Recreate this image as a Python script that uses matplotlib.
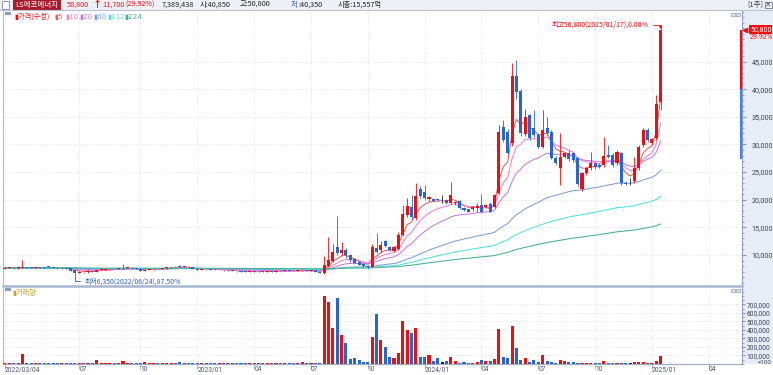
import numpy as np
import pandas as pd
import matplotlib
matplotlib.use('Agg')
import matplotlib.pyplot as plt
import matplotlib.transforms as mtransforms
from matplotlib.patches import Rectangle
from matplotlib.ticker import MultipleLocator, FuncFormatter
from matplotlib import font_manager

plt.rcParams['font.family'] = ['Noto Sans CJK KR', 'DejaVu Sans']

installed = {f.name for f in font_manager.fontManager.ttflist}
NARROW = 'Liberation Sans Narrow' if 'Liberation Sans Narrow' in installed else 'Roboto'
NUM_SIZE = 6.2 if NARROW == 'Liberation Sans Narrow' else 5.2

# weekly candles, 2022/03/04 .. 2025/01/17 (one bar per week, Friday dated)
start = '2022-03-04'
opens = [7550, 7650, 7700, 7600, 7700, 7850, 7700, 7650, 7800, 7700,
         8000, 7750, 7700, 7600, 7650, 7600, 7200, 6750, 6950, 6850,
         7050, 6950, 7300, 7350, 7400, 7500, 7450, 7600, 7650, 7700,
         7600, 7550, 7100, 7350, 7400, 7500, 7450, 7600, 7750, 7850,
         8000, 7850, 7900, 7750, 7450, 7300, 7500, 7400, 7350, 7250,
         7300, 7200, 7250, 7100, 7050, 7000, 6950, 7050, 6900, 7000,
         6950, 7050, 7000, 7150, 7100, 7200, 7150, 7100, 7200, 7300,
         7150, 7200, 7000, 6750, 8000, 9000, 11400, 10300, 10900, 10000,
         9200, 8800, 8300, 8000, 7900, 11200, 10900, 12600, 11500, 10800,
         11000, 13700, 17300, 18600, 16700, 22000, 21400, 20100, 20100, 20100,
         19950, 19950, 19450, 19350, 19800, 18450, 18250, 18320, 18440, 19050,
         18750, 19200, 18750, 21150, 33200, 32300, 30200, 42300, 39700, 31900,
         35300, 32900, 31700, 29600, 32900, 32300, 27600, 25700, 27800, 28400,
         28400, 27500, 21900, 24800, 25700, 26600, 26300, 26300, 28100, 28100,
         26600, 28400, 23100, 23000, 23300, 25700, 29900, 32700, 30200, 31100,
         37700]
highs = [7750, 7800, 7750, 7800, 9100, 7900, 7750, 7850, 7850, 7750,
         8050, 7800, 7750, 7700, 7700, 7650, 7250, 7050, 7000, 7100,
         7100, 7350, 7400, 7450, 7550, 7550, 7650, 8300, 7750, 7750,
         7650, 7600, 7400, 7450, 7550, 7550, 7650, 7800, 7900, 7950,
         8100, 7950, 7950, 7800, 7500, 7550, 7550, 7450, 7400, 7350,
         7350, 7300, 7300, 7150, 7100, 7050, 7100, 7100, 7050, 7050,
         7100, 7100, 7200, 7200, 7250, 7250, 7200, 7250, 7400, 7350,
         7250, 7250, 7050, 9800, 13300, 12000, 17000, 12400, 11200, 10200,
         9400, 9000, 8500, 8200, 12000, 14000, 12500, 12800, 11700, 11700,
         14100, 19000, 20300, 20800, 23100, 22400, 22700, 20700, 20300, 20200,
         20850, 20100, 23200, 19800, 20000, 18700, 18400, 18900, 19350, 21000,
         19300, 19500, 21100, 33500, 34400, 32800, 44700, 45300, 40000, 36500,
         35600, 36200, 32000, 36200, 34900, 32600, 27900, 32000, 28700, 29000,
         28700, 27800, 25000, 26000, 28700, 26900, 26600, 31400, 29900, 28400,
         29000, 28700, 23400, 23900, 27800, 29900, 33000, 33000, 31200, 38900,
         50800]
lows = [7500, 7600, 7550, 7550, 7650, 7650, 7600, 7600, 7650, 7600,
        7700, 7650, 7550, 7550, 7500, 7100, 6350, 6700, 6800, 6800,
        6900, 6900, 7250, 7300, 7350, 7400, 7400, 7550, 7600, 7550,
        7500, 7050, 7050, 7300, 7350, 7400, 7400, 7550, 7700, 7750,
        7800, 7800, 7700, 7400, 7250, 7250, 7350, 7300, 7200, 7200,
        7150, 7150, 7050, 7000, 6950, 6900, 6900, 6850, 6850, 6900,
        6900, 6950, 6950, 7050, 7050, 7100, 7050, 7050, 7150, 7100,
        7100, 6950, 6750, 6650, 7900, 8800, 10000, 10000, 9400, 8800,
        8500, 8100, 7800, 7500, 7800, 10400, 10600, 11400, 10700, 10600,
        10900, 13400, 16800, 16500, 16400, 20300, 19900, 19800, 19700, 19700,
        19350, 19200, 19300, 19100, 18300, 17900, 17700, 18000, 17840, 17800,
        18500, 17700, 18500, 21000, 30500, 28200, 29800, 38300, 31500, 31500,
        30800, 31300, 29300, 29300, 31700, 27300, 26300, 22700, 27500, 27000,
        26900, 22500, 21600, 24500, 25400, 25600, 25700, 26000, 27500, 26000,
        26300, 22700, 22600, 22700, 23000, 25400, 29600, 30500, 29900, 30800,
        36200]
closes = [7650, 7700, 7600, 7750, 7850, 7700, 7650, 7800, 7700, 7650,
          7750, 7700, 7600, 7650, 7550, 7150, 6700, 6950, 6850, 7050,
          6950, 7300, 7350, 7400, 7500, 7450, 7600, 7650, 7700, 7600,
          7550, 7100, 7350, 7400, 7500, 7450, 7600, 7750, 7850, 7800,
          7850, 7900, 7750, 7450, 7300, 7500, 7400, 7350, 7250, 7300,
          7200, 7250, 7100, 7050, 7000, 6950, 7050, 6900, 7000, 6950,
          7050, 7000, 7150, 7100, 7200, 7150, 7100, 7200, 7300, 7150,
          7200, 7000, 6800, 8200, 9100, 10600, 10300, 10900, 10000, 9100,
          8600, 8200, 7950, 7800, 11400, 10600, 11800, 11600, 10900, 11400,
          13700, 17500, 18900, 16800, 20700, 20600, 20300, 20500, 19850, 19950,
          19950, 19350, 20850, 19580, 18450, 18150, 17850, 18740, 18860, 17840,
          19050, 17850, 20850, 32300, 30800, 28500, 42400, 39500, 32000, 35000,
          31100, 31700, 29600, 32700, 32000, 27600, 26600, 27800, 28400, 27300,
          27200, 22850, 24800, 25700, 26600, 25900, 26000, 27900, 27800, 26300,
          28700, 23000, 22850, 23000, 25700, 29600, 32700, 30800, 30900, 37400,
          50800]
# volume as shown on the axis (x100 shares)
volumes = [12000, 9000, 8000, 10000, 114000, 15000, 8000, 10000, 9000, 8000,
           14000, 9000, 8000, 7000, 9000, 12000, 15000, 9000, 8000, 9000,
           7000, 47000, 10000, 8000, 9000, 7000, 10000, 35000, 9000, 8000,
           7000, 12000, 23000, 9000, 8000, 7000, 9000, 10000, 11000, 9000,
           18000, 12000, 9000, 10000, 8000, 9000, 7000, 6000, 7000, 8000,
           6000, 7000, 6000, 7000, 6000, 6000, 7000, 6000, 7000, 6000,
           8000, 7000, 9000, 7000, 8000, 7000, 6000, 8000, 20000, 9000,
           8000, 10000, 12000, 800000, 733000, 427000, 780000, 341000, 243000, 59000,
           75000, 47000, 20000, 20000, 314000, 584000, 282000, 204000, 86000, 67000,
           125000, 506000, 400000, 361000, 420000, 86000, 80000, 102000, 39000, 75000,
           27000, 39000, 82000, 35000, 16000, 24000, 16000, 16000, 20000, 47000,
           39000, 30000, 59000, 408000, 86000, 75000, 451000, 184000, 47000, 75000,
           27000, 51000, 20000, 106000, 39000, 27000, 16000, 43000, 35000, 24000,
           20000, 12000, 12000, 12000, 16000, 12000, 12000, 39000, 12000, 12000,
           12000, 16000, 12000, 12000, 20000, 20000, 20000, 12000, 12000, 39000,
           98000]

ma_periods = [5, 10, 20, 60, 112, 224]
ma_colors = ['#e35f5f', '#f47fd4', '#c978dc', '#7c9fd6', '#4fe0e4', '#45b08f']

tick_dates = ['2022-03-04', '2022-07-01', '2022-10-07', '2023-01-06', '2023-04-07',
              '2023-07-07', '2023-10-06', '2024-01-05', '2024-04-05', '2024-07-05',
              '2024-10-04', '2025-01-03', '2025-04-04']
tick_labels = ['2022/03/04', '07', '10', '2023/01', '04', '07', '10',
               '2024/01', '04', '07', '10', '2025/01', '04']
price_ticks = [10000, 15000, 20000, 25000, 30000, 35000, 40000, 45000]
vol_ticks = [100000, 200000, 300000, 400000, 500000, 600000, 700000]

# header figures (daily quote)
name = 'LS에코에너지'
last_price = 50800
change = 11700
day_volume = 7389438
day_open, day_high, day_low = 40850, 50800, 40350
mktcap = '15,557억'
band_up = (40000, 50800)
band_dn = (27300, 40000)

RED = '#f20d0d'
BLUE = '#2766d2'
DARK = '#1e1e1e'
AXTXT = '#3b4358'

W, H = 773, 375
def fx(px):
    return px / W
def fy(py):
    return 1 - py / H

n = len(closes)
for arr in (opens, highs, lows, volumes):
    assert len(arr) == n
o, h, l, c = (np.array(a, dtype=float) for a in (opens, highs, lows, closes))
idx = np.arange(n)
dates = pd.date_range(start, periods=n, freq='W-FRI')
tick_pos = [(pd.Timestamp(d) - dates[0]).days / 7 for d in tick_dates]
cols = np.where(c > o, RED, np.where(c < o, BLUE, '#202020'))

fig = plt.figure(figsize=(W / 100, H / 100), dpi=100)
fig.patch.set_facecolor('white')

# scale strip on the right
fig.add_artist(Rectangle((fx(742), fy(364)), 1 - fx(742), fy(10) - fy(364),
                         transform=fig.transFigure, facecolor='#e8edf5',
                         edgecolor='none', zorder=-5))

ax = fig.add_axes([fx(3), fy(286), fx(742) - fx(3), fy(10) - fy(286)])
axv = fig.add_axes([fx(3), fy(364), fx(742) - fx(3), fy(288) - fy(364)], sharex=ax)

# --- price panel ---
s = pd.Series(c)
for p, col in zip(ma_periods, ma_colors):
    ax.plot(idx, s.ewm(span=p, adjust=False).mean(), color=col, lw=0.75, zorder=2)
ax.vlines(idx, l, h, colors=cols, lw=0.6, zorder=3)
ax.bar(idx, np.maximum(np.abs(c - o), 90), bottom=np.minimum(o, c), width=0.7,
       color=cols, linewidth=0, zorder=4)

ax.set_xlim(-0.45, 168.6)
ax.set_ylim(4390, 54330)
ax.set_xticks(tick_pos)
ax.set_yticks(price_ticks)
ax.grid(True, color='#d3d6dc', ls=(0, (1, 2)), lw=0.6)
ax.set_axisbelow(True)
ax.tick_params(axis='x', length=0, labelbottom=False)
ax.yaxis.tick_right()
ax.yaxis.set_major_formatter(FuncFormatter(lambda v, p: f'{v:,.0f}'))
ax.yaxis.set_minor_locator(MultipleLocator(1000))
ax.tick_params(axis='y', which='major', length=3, color='#8797b5',
               labelcolor=AXTXT, labelsize=NUM_SIZE, pad=4)
ax.tick_params(axis='y', which='minor', length=1.5, color='#8797b5')
for lab in ax.get_yticklabels():
    lab.set_family(NARROW)
for sp in ('top', 'left'):
    ax.spines[sp].set_color('#aab6cc')
    ax.spines[sp].set_linewidth(0.7)
ax.spines['right'].set_color('#8da0c2')
ax.spines['right'].set_linewidth(0.8)
ax.spines['bottom'].set_color('#a8b6cf')
ax.spines['bottom'].set_linewidth(1.8)

# range bands on the price scale
edge = mtransforms.blended_transform_factory(ax.transAxes, ax.transData)
ax.plot([0.999, 0.999], band_up, transform=edge, color=RED, lw=1.6,
        solid_capstyle='butt', clip_on=False, zorder=6)
ax.plot([0.999, 0.999], band_dn, transform=edge, color='#4a82dd', lw=1.6,
        solid_capstyle='butt', clip_on=False, zorder=6)

# current price tag
ax.plot([1.004], [c[-1]], transform=edge, marker='<', ms=3.2, color=RED,
        clip_on=False, zorder=7)
ax.text(1.011, c[-1], f'{int(c[-1]):,}', transform=edge, ha='left', va='center',
        color='white', fontsize=NUM_SIZE, family=NARROW, zorder=7,
        bbox=dict(boxstyle='square,pad=0.12', fc=RED, ec='none'))
pct = change / (last_price - change) * 100
ax.annotate(f'{pct:.2f}%', xy=(1.011, c[-1]), xycoords=edge, xytext=(0, -5.6),
            textcoords='offset points', ha='left', va='center', color=RED,
            fontsize=NUM_SIZE, family=NARROW, zorder=7, annotation_clip=False)

# high / low notes
imax = int(np.argmax(h))
imin = int(np.argmin(l))
ax.annotate(f'최고{int(h[imax]):,}({dates[imax]:%Y/%m/%d}),{(h[imax] - c[-1]) / h[imax] * 100:.2f}%',
            xy=(imax, h[imax]), xytext=(-8.5, 3.6), textcoords='offset points',
            ha='right', va='center', fontsize=5, color=RED, zorder=8,
            arrowprops=dict(arrowstyle='-|>', color=RED, lw=0.6, mutation_scale=4,
                            shrinkA=1, shrinkB=0,
                            connectionstyle='angle,angleA=0,angleB=90,rad=0'))
ax.annotate(f'최저{int(l[imin]):,}({dates[imin]:%Y/%m/%d}),{(c[-1] - l[imin]) / c[-1] * 100:.2f}%',
            xy=(imin, l[imin]), xytext=(7, -4.3), textcoords='offset points',
            ha='left', va='center', fontsize=5, color='#2b5fcc', zorder=8,
            arrowprops=dict(arrowstyle='-', color='#2b5fcc', lw=0.6,
                            shrinkA=1, shrinkB=0,
                            connectionstyle='angle,angleA=0,angleB=90,rad=0'))

# legend row
legend_items = ['가격(수정)', '5', '10', '20', '60', '112', '224']
legend_colors = [RED] + ma_colors
legend_x = [14.5, 54.5, 65, 79.5, 93.5, 107.5, 124.5]
for txt, col, x in zip(legend_items, legend_colors, legend_x):
    fig.text(fx(x), fy(16.5), '▮' + txt, color=col, fontsize=5.2, va='center', ha='left',
             family=['DejaVu Sans', 'Noto Sans CJK KR'] if txt != '가격(수정)' else None)

# --- volume panel ---
axv.bar(idx, volumes, width=0.7, color=cols, linewidth=0, zorder=3)
axv.set_ylim(0, 894000)
axv.set_yticks(vol_ticks)
axv.grid(True, color='#d3d6dc', ls=(0, (1, 2)), lw=0.6)
axv.set_axisbelow(True)
axv.yaxis.tick_right()
axv.yaxis.set_major_formatter(FuncFormatter(lambda v, p: f'{v:,.0f}'))
axv.yaxis.set_minor_locator(MultipleLocator(50000))
axv.tick_params(axis='y', which='major', length=2, color='#8797b5',
                labelcolor=AXTXT, labelsize=4.8, pad=1.5)
axv.tick_params(axis='y', which='minor', length=1.2, color='#8797b5')
for lab in axv.get_yticklabels():
    lab.set_family(NARROW)
axv.set_xticks(tick_pos)
axv.set_xticklabels(tick_labels, ha='left', fontsize=4.8, color='#4a5570', family=NARROW)
axv.tick_params(axis='x', length=3.5, color='#aab4c8', pad=-2)
axv.spines['top'].set_visible(False)
axv.spines['left'].set_color('#aab6cc')
axv.spines['left'].set_linewidth(0.7)
axv.spines['right'].set_color('#8da0c2')
axv.spines['right'].set_linewidth(0.8)
axv.spines['bottom'].set_color('#9fadc6')
axv.spines['bottom'].set_linewidth(0.9)
fig.text(fx(771.5), fy(362), '×100', ha='right', va='center', fontsize=4.5,
         color=AXTXT, family=[NARROW, 'DejaVu Sans'])
fig.text(fx(12), fy(292.5), '▮거래량', color='#c4a43c', fontsize=5.2, va='center', ha='left')

# little panel icons
for yy in (12, 288):
    fig.add_artist(Rectangle((fx(4.5), fy(yy + 3)), fx(6), 3 / H, transform=fig.transFigure,
                             facecolor='#8c9cbc', edgecolor='none'))
    for xx in (730.5, 735.5):
        fig.add_artist(Rectangle((fx(xx), fy(yy + 4)), fx(4), 3.5 / H,
                                 transform=fig.transFigure, facecolor='#dde3ee',
                                 edgecolor='#8c9cbc', lw=0.5))

# --- header bar ---
fig.add_artist(Rectangle((0, fy(9.5)), 1, 9.5 / H, transform=fig.transFigure,
                         facecolor='#eff0f5', edgecolor='none', zorder=-4))
fig.add_artist(plt.Line2D([0, 1], [fy(9.8), fy(9.8)], transform=fig.transFigure,
                          color='#b9c1d6', lw=0.8))
fig.add_artist(Rectangle((fx(2), fy(8.5)), fx(7), 7.5 / H, transform=fig.transFigure,
                         facecolor='white', edgecolor='#7c879c', lw=0.6))
fig.add_artist(Rectangle((fx(12.5), fy(9.5)), fx(48.5), 9.5 / H, transform=fig.transFigure,
                         facecolor='#a61c2b', edgecolor='none'))
hy = fy(4.8)
HS = 5.2
fig.text(fx(36.7), hy, name, color='white', fontsize=5.4, ha='center', va='center')
fig.text(fx(67), hy, f'{last_price:,}', color=RED, fontsize=HS, va='center')
fig.text(fx(93), hy, '↑', color=RED, fontsize=6.5, fontweight='bold', va='center')
fig.text(fx(102), hy, f'{change:,}', color=RED, fontsize=HS, va='center')
fig.text(fx(125), hy, f'({pct:.2f}%)', color=RED, fontsize=HS, va='center')
fig.text(fx(162), hy, f'{day_volume:,}', color=DARK, fontsize=HS, va='center')
fig.text(fx(200), hy, f'시:{day_open:,}', color=DARK, fontsize=HS, va='center')
fig.text(fx(240), hy, f'고:{day_high:,}', color=DARK, fontsize=HS, va='center')
fig.text(fx(291), hy, '저', color=BLUE, fontsize=HS, va='center')
fig.text(fx(298), hy, f':{day_low:,}', color=DARK, fontsize=HS, va='center')
fig.text(fx(338), hy, f'시총:{mktcap}', color=DARK, fontsize=HS, va='center')
fig.text(fx(747), hy, '[1주]', color='#333a48', fontsize=5.4, va='center')
fig.add_artist(Rectangle((fx(765), fy(8)), fx(6.5), 6.5 / H, transform=fig.transFigure,
                         facecolor='#f8f8fb', edgecolor='#6b7588', lw=0.6))
fig.text(fx(768.2), fy(4.8), '×', color='#333a48', fontsize=5.5, ha='center', va='center',
         family='DejaVu Sans')

fig.savefig('out.png', dpi=100)
